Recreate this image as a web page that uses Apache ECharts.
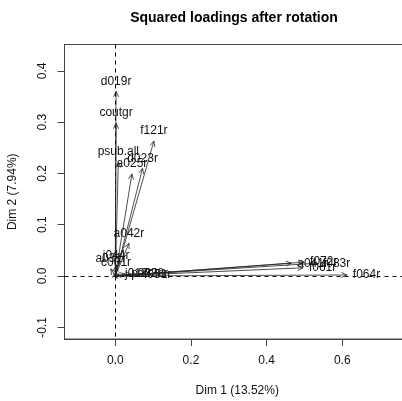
<!DOCTYPE html>
<html>
<head>
<meta charset="utf-8">
<script src="https://cdn.jsdelivr.net/npm/echarts@6/dist/echarts.min.js"></script>
<style>
  html, body { margin: 0; padding: 0; background: #fff; }
  #chart { width: 402px; height: 401px; }
</style>
</head>
<body>
<div id="chart"></div>
<script>
// variable names and their squared loadings on the two rotated dimensions
const varNames = ['d019r', 'coutgr', 'psub.all', 'f121r', 'd023r', 'a025r', 'a042r',
  'j044r', 'a031r', 'c001r', 'j012r', 'p033r', 'a028r', 'f051r',
  'a041r', 'f061r', 'f072r', 'f083r', 'f064r'];
const dim1 = [0.002, 0.002, 0.008, 0.102, 0.072, 0.044, 0.036,
  0.002, -0.012, 0.002, 0.010, 0.026, 0.042, 0.060,
  0.465, 0.496, 0.499, 0.533, 0.612];
const dim2 = [0.360, 0.298, 0.222, 0.263, 0.210, 0.199, 0.064,
  0.020, 0.014, 0.006, 0.004, 0.004, 0.004, 0.003,
  0.025, 0.016, 0.027, 0.025, 0.002];

const xTicks = [0, 0.2, 0.4, 0.6];
const yTicks = [-0.1, 0, 0.1, 0.2, 0.3, 0.4];

const chart = echarts.init(document.getElementById('chart'));
const FONT = 'Liberation Sans, Arial, sans-serif';
const BOX = '#444';
const X_MIN = -0.1343, X_MAX = 0.779;
const Y_MIN = -0.1228, Y_MAX = 0.4514;

function renderArrow(params, api) {
  const i = params.dataIndex;
  const o = api.coord([0, 0]);
  const p = api.coord([api.value(0), api.value(1)]);
  const dx = p[0] - o[0];
  const dy = p[1] - o[1];
  const len = Math.sqrt(dx * dx + dy * dy) || 1;
  const ux = dx / len, uy = dy / len;
  const h = 6, ang = 25 * Math.PI / 180;
  const c = Math.cos(ang), s = Math.sin(ang);
  const a = [p[0] - h * (ux * c - uy * s), p[1] - h * (uy * c + ux * s)];
  const b = [p[0] - h * (ux * c + uy * s), p[1] - h * (uy * c - ux * s)];

  // label goes on the side the arrow points to (like text(pos=...))
  let tx = p[0], ty = p[1], align = 'center', valign = 'middle';
  if (Math.abs(dy) >= Math.abs(dx)) {
    if (dy <= 0) { ty = p[1] - 4; valign = 'bottom'; }
    else { ty = p[1] + 4; valign = 'top'; }
  } else {
    if (dx >= 0) { tx = p[0] + 6; align = 'left'; }
    else { tx = p[0] - 6; align = 'right'; }
  }

  return {
    type: 'group',
    children: [
      { type: 'line', shape: { x1: o[0], y1: o[1], x2: p[0], y2: p[1] },
        style: { stroke: '#222', lineWidth: 0.8 } },
      { type: 'polyline', shape: { points: [a, p, b] },
        style: { stroke: '#222', lineWidth: 0.8, fill: null } },
      { type: 'text', style: { x: tx, y: ty, text: varNames[i], fill: '#111',
        font: '12px ' + FONT, textAlign: align, textVerticalAlign: valign } }
    ]
  };
}

// dashed reference lines through the origin
function renderZeroLines(params, api) {
  const l = api.coord([X_MIN, 0]), r = api.coord([X_MAX, 0]);
  const t = api.coord([0, Y_MAX]), b = api.coord([0, Y_MIN]);
  const y0 = Math.round(l[1]) + 0.5, x0 = Math.round(t[0]) + 0.5;
  const st = { stroke: '#000', lineWidth: 1, lineDash: [4, 4] };
  return {
    type: 'group',
    children: [
      { type: 'line', shape: { x1: l[0], y1: y0, x2: r[0], y2: y0 }, style: st },
      { type: 'line', shape: { x1: x0, y1: t[1], x2: x0, y2: b[1] }, style: st }
    ]
  };
}

const option = {
  animation: false,
  title: {
    text: 'Squared loadings after rotation',
    left: 229,
    top: 6,
    textAlign: 'center',
    textStyle: { fontFamily: FONT, fontSize: 14, fontWeight: 'bold', color: '#000' }
  },
  grid: {
    left: 64.5,
    top: 44.5,
    right: -8,
    bottom: 62,
    outerBoundsMode: 'none',
    containLabel: false,
    show: true,
    borderColor: BOX,
    borderWidth: 1
  },
  xAxis: {
    type: 'value',
    min: X_MIN,
    max: X_MAX,
    name: 'Dim 1 (13.52%)',
    nameLocation: 'middle',
    nameGap: 46,
    nameTextStyle: { fontFamily: FONT, fontSize: 12, color: '#111' },
    axisLine: { show: true, onZero: false, lineStyle: { color: BOX } },
    axisTick: { show: true, length: 7, customValues: xTicks, lineStyle: { color: BOX } },
    axisLabel: {
      customValues: xTicks, margin: 16, color: '#111', fontFamily: FONT, fontSize: 12,
      formatter: function (v) { return v.toFixed(1); }
    },
    splitLine: { show: false }
  },
  yAxis: {
    type: 'value',
    min: Y_MIN,
    max: Y_MAX,
    name: 'Dim 2 (7.94%)',
    nameLocation: 'middle',
    nameGap: 46,
    nameTextStyle: { fontFamily: FONT, fontSize: 12, color: '#111' },
    axisLine: { show: true, onZero: false, lineStyle: { color: BOX } },
    axisTick: { show: true, length: 7, customValues: yTicks, lineStyle: { color: BOX } },
    axisLabel: {
      customValues: yTicks, rotate: 90, margin: 16, color: '#111', fontFamily: FONT, fontSize: 12,
      formatter: function (v) { return v.toFixed(1); }
    },
    splitLine: { show: false }
  },
  series: [
    {
      type: 'custom',
      silent: true,
      renderItem: renderZeroLines,
      data: [[0, 0]]
    },
    {
      type: 'custom',
      silent: true,
      renderItem: renderArrow,
      data: dim1.map(function (v, i) { return [v, dim2[i]]; })
    }
  ]
};

chart.setOption(option);
</script>
</body>
</html>
